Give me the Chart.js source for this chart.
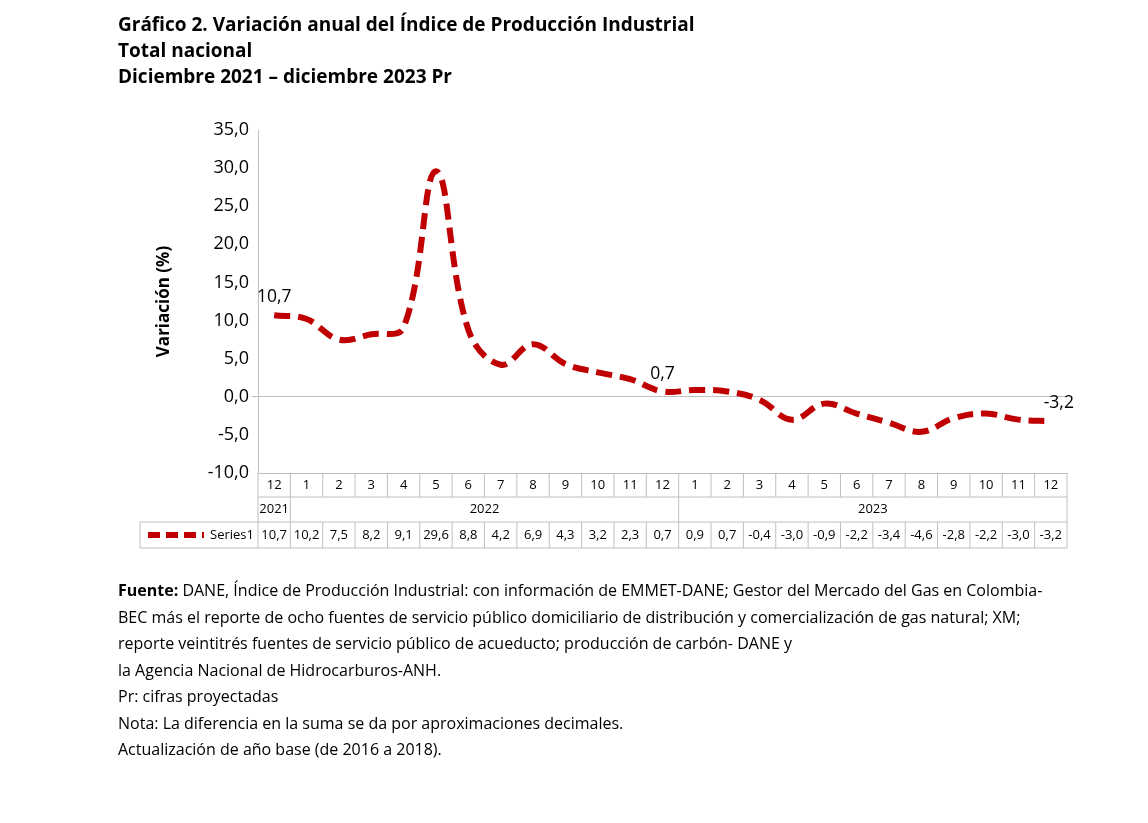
<!DOCTYPE html>
<html>
<head>
<meta charset="utf-8">
<script src="https://cdn.jsdelivr.net/npm/chart.js@4"></script>
<style>
  body { margin: 0; background: #fff; font-family: "Open Sans", sans-serif; }
  #wrap { position: relative; width: 1148px; height: 823px; }
  canvas { position: absolute; left: 0; top: 0; }
  .title { position: absolute; left: 118px; top: 11px; font-weight: bold; font-size: 19px; line-height: 26px; color: #000; }
  .notes { position: absolute; left: 118px; top: 577px; font-size: 16px; line-height: 26.5px; color: #000; width: 935px; }
</style>
</head>
<body>
<div id="wrap">
  <canvas id="chart" width="1148" height="823"></canvas>
  <div class="title">Gráfico 2. Variación anual del Índice de Producción Industrial<br>Total nacional<br>Diciembre 2021 – diciembre 2023 Pr</div>
  <div class="notes"><b>Fuente:</b> DANE, Índice de Producción Industrial: con información de EMMET-DANE; Gestor del Mercado del Gas en Colombia-BEC más el reporte de ocho fuentes de servicio público domiciliario de distribución y comercialización de gas natural; XM; reporte veintitrés fuentes de servicio público de acueducto; producción de carbón- DANE y<br>la Agencia Nacional de Hidrocarburos-ANH.<br>Pr: cifras proyectadas<br>Nota: La diferencia en la suma se da por aproximaciones decimales.<br>Actualización de año base (de 2016 a 2018).</div>
</div>
<script>
var months = ['12','1','2','3','4','5','6','7','8','9','10','11','12','1','2','3','4','5','6','7','8','9','10','11','12']
var years = [['2021', 0, 0], ['2022', 1, 12], ['2023', 13, 24]]
var values = [10.7, 10.2, 7.5, 8.2, 9.1, 29.6, 8.8, 4.2, 6.9, 4.3, 3.2, 2.3, 0.7, 0.9, 0.7, -0.4, -3.0, -0.9, -2.2, -3.4, -4.6, -2.8, -2.2, -3.0, -3.2]
var labelled = [0, 12, 24]
var seriesName = 'Series1'

function fmt(v) { return v.toFixed(1).replace('.', ',') }

var tablePlugin = {
  id: 'table',
  afterDraw: function(chart) {
    var ctx = chart.ctx
    var xs = chart.scales.x
    var area = chart.chartArea
    var n = months.length
    var w = (area.right - area.left) / n
    var r0 = area.bottom, r1 = r0 + 24, r2 = r1 + 25, r3 = r2 + 26
    ctx.save()
    ctx.strokeStyle = '#bfbfbf'
    ctx.lineWidth = 1
    ctx.beginPath()
    ctx.moveTo(area.left, r1); ctx.lineTo(area.right, r1)
    ctx.moveTo(140, r2); ctx.lineTo(area.right, r2)
    ctx.moveTo(140, r3); ctx.lineTo(area.right, r3)
    ctx.moveTo(140, r2); ctx.lineTo(140, r3)
    for (var i = 0; i <= n; i++) {
      var x = area.left + i * w
      ctx.moveTo(x, r0); ctx.lineTo(x, r1)
      ctx.moveTo(x, r2); ctx.lineTo(x, r3)
    }
    years.forEach(function(y) {
      var x = area.left + y[1] * w
      ctx.moveTo(x, r1); ctx.lineTo(x, r2)
    })
    ctx.moveTo(area.right, r1); ctx.lineTo(area.right, r2)
    ctx.stroke()
    ctx.fillStyle = '#000'
    ctx.font = '13px "Open Sans"'
    ctx.textAlign = 'center'
    ctx.textBaseline = 'middle'
    for (var i = 0; i < n; i++) {
      var cx = xs.getPixelForValue(i)
      ctx.fillText(months[i], cx, (r0 + r1) / 2)
      ctx.fillText(fmt(values[i]), cx, (r2 + r3) / 2)
    }
    years.forEach(function(y) {
      var cx = (xs.getPixelForValue(y[1]) + xs.getPixelForValue(y[2])) / 2
      ctx.fillText(y[0], cx, (r1 + r2) / 2)
    })
    ctx.textAlign = 'right'
    ctx.fillText(seriesName, area.left - 4, (r2 + r3) / 2)
    ctx.strokeStyle = '#c00000'
    ctx.lineWidth = 6
    ctx.setLineDash([12, 6])
    ctx.beginPath()
    ctx.moveTo(148, (r2 + r3) / 2); ctx.lineTo(204, (r2 + r3) / 2)
    ctx.stroke()
    ctx.restore()
  }
}

var pointLabels = {
  id: 'pointLabels',
  afterDatasetsDraw: function(chart) {
    var ctx = chart.ctx
    var meta = chart.getDatasetMeta(0)
    ctx.save()
    ctx.fillStyle = '#000'
    ctx.font = '17.5px "Open Sans"'
    ctx.textAlign = 'center'
    ctx.textBaseline = 'bottom'
    labelled.forEach(function(i) {
      var p = meta.data[i]
      ctx.fillText(fmt(values[i]), p.x + (i == 24 ? 8 : 0), p.y - 9)
    })
    ctx.restore()
  }
}

new Chart(document.getElementById('chart'), {
  type: 'line',
  data: {
    labels: months.map(function(m, i) { return i }),
    datasets: [{
      label: seriesName,
      data: values,
      borderColor: '#c00000',
      borderWidth: 6,
      borderDash: [16, 8],
      pointRadius: 0,
      tension: 0.4,
      fill: false
    }]
  },
  options: {
    responsive: false,
    animation: false,
    layout: { padding: { left: 150, top: 130, right: 81, bottom: 342 } },
    plugins: { legend: { display: false }, tooltip: { enabled: false } },
    scales: {
      x: {
        offset: true,
        ticks: { display: false },
        grid: { display: false },
        border: { color: '#bfbfbf' }
      },
      y: {
        min: -10, max: 35,
        afterFit: function(s) { s.width = 108 },
        ticks: {
          stepSize: 5,
          color: '#000',
          font: { family: 'Open Sans', size: 18 },
          callback: function(v) { return fmt(v) }
        },
        grid: {
          drawTicks: true,
          tickLength: 6,
          color: function(c) { return c.tick.value === 0 ? '#bfbfbf' : 'rgba(0,0,0,0)' }
        },
        border: { color: '#bfbfbf' },
        title: { display: true, text: 'Variación (%)', color: '#000', font: { family: 'Open Sans', size: 17, weight: 'bold' } }
      }
    }
  },
  plugins: [tablePlugin, pointLabels]
})
</script>
</body>
</html>
